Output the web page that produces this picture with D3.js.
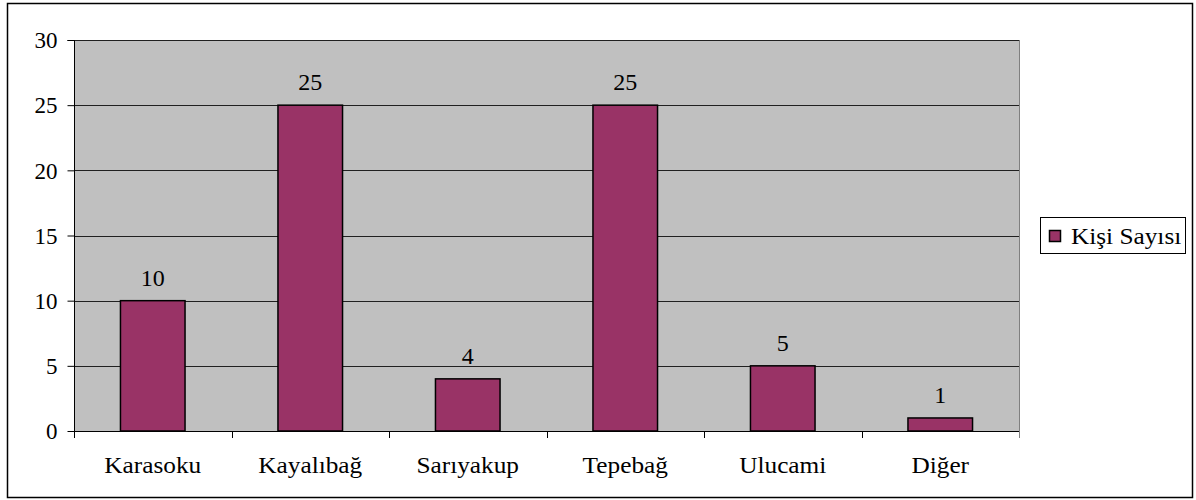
<!DOCTYPE html>
<html>
<head>
<meta charset="utf-8">
<script src="https://cdn.jsdelivr.net/npm/d3@7"></script>
<style>
  html, body { margin: 0; padding: 0; background: #fff; }
  svg { display: block; }
</style>
</head>
<body>
<svg id="chart" width="1196" height="500"></svg>
<script>
// Number of people per neighbourhood
const categories = ["Karasoku", "Kayalıbağ", "Sarıyakup", "Tepebağ", "Ulucami", "Diğer"];
const values = [10, 25, 4, 25, 5, 1];
const yTicks = [0, 5, 10, 15, 20, 25, 30];
const seriesName = "Kişi Sayısı";

const FONT = "Liberation Serif";
const WIDE = 1.1; // horizontal stretch applied to word labels
const svg = d3.select("#chart");
const W = 1196, H = 500;
const plot = { left: 74, top: 40, right: 1019, bottom: 431 };

// Outer frame
svg.append("rect")
  .attr("x", 7.5).attr("y", 3.5)
  .attr("width", W - 11).attr("height", H - 6)
  .attr("fill", "#fff").attr("stroke", "#000").attr("stroke-width", 1.5);

const x = d3.scaleBand()
  .domain(categories)
  .range([plot.left, plot.right])
  .paddingInner(0).paddingOuter(0);

const y = d3.scaleLinear()
  .domain([0, 30])
  .range([plot.bottom, plot.top]);

// Plot background
svg.append("rect")
  .attr("x", plot.left).attr("y", plot.top)
  .attr("width", plot.right - plot.left).attr("height", plot.bottom - plot.top)
  .attr("fill", "#c0c0c0");

// Horizontal gridlines
svg.append("g")
  .selectAll("line")
  .data(yTicks.filter(d => d > 0))
  .join("line")
  .attr("x1", plot.left).attr("x2", plot.right)
  .attr("y1", d => Math.round(y(d)) + 0.5).attr("y2", d => Math.round(y(d)) + 0.5)
  .attr("stroke", "#202020").attr("stroke-width", 1);

// Right edge of plot area
svg.append("line")
  .attr("x1", plot.right + 0.5).attr("x2", plot.right + 0.5)
  .attr("y1", plot.top).attr("y2", plot.bottom)
  .attr("stroke", "#808080").attr("stroke-width", 1);

const rows = categories.map((c, i) => ({ c, v: values[i] }));

// Bars
const barW = x.bandwidth() * 0.41;
svg.append("g")
  .selectAll("rect")
  .data(rows)
  .join("rect")
  .attr("x", d => x(d.c) + (x.bandwidth() - barW) / 2)
  .attr("y", d => y(d.v))
  .attr("width", barW)
  .attr("height", d => y(0) - y(d.v))
  .attr("fill", "#993366")
  .attr("stroke", "#000").attr("stroke-width", 1.5);

// Value labels
svg.append("g")
  .selectAll("text")
  .data(rows)
  .join("text")
  .attr("x", d => x(d.c) + x.bandwidth() / 2)
  .attr("y", d => y(d.v) - 15)
  .attr("text-anchor", "middle")
  .style("font-family", FONT)
  .style("font-size", "24px")
  .style("fill", "#000")
  .text(d => d.v);

// Y axis
const yAxis = d3.axisLeft(y).tickValues(yTicks).tickSize(7).tickPadding(10);
const gy = svg.append("g")
  .attr("transform", `translate(${plot.left + 0.5},0)`)
  .call(yAxis);
gy.attr("font-family", null).attr("font-size", null);
gy.select(".domain").attr("stroke", "#000").attr("d", `M-7,${plot.top + 0.5}H0V${plot.bottom + 7}`);
gy.selectAll(".tick line").attr("stroke", "#000");
gy.selectAll(".tick text")
  .attr("dy", "0.34em")
  .style("font-family", FONT)
  .style("font-size", "23px")
  .style("fill", "#000");

// X axis: ticks at band boundaries
const gx = svg.append("g");
gx.append("line")
  .attr("x1", plot.left).attr("x2", plot.right + 1)
  .attr("y1", plot.bottom + 0.5).attr("y2", plot.bottom + 0.5)
  .attr("stroke", "#000");
const bounds = categories.map(c => x(c)).concat([x.range()[1]]);
gx.selectAll("line.tick")
  .data(bounds)
  .join("line")
  .attr("class", "tick")
  .attr("x1", d => Math.round(d) + 0.5).attr("x2", d => Math.round(d) + 0.5)
  .attr("y1", plot.bottom).attr("y2", plot.bottom + 7)
  .attr("stroke", (d, i) => i === bounds.length - 1 ? "#808080" : "#000");
gx.selectAll("text")
  .data(categories)
  .join("text")
  .attr("transform", d => `translate(${x(d) + x.bandwidth() / 2},473) scale(${WIDE},1)`)
  .attr("text-anchor", "middle")
  .style("font-family", FONT)
  .style("font-size", "23px")
  .style("fill", "#000")
  .text(d => d);

// Legend
const lg = svg.append("g");
lg.append("rect")
  .attr("x", 1040.5).attr("y", 217.5)
  .attr("width", 145).attr("height", 36)
  .attr("fill", "#fff").attr("stroke", "#000").attr("stroke-width", 1);
lg.append("rect")
  .attr("x", 1049.5).attr("y", 230.5)
  .attr("width", 11).attr("height", 11)
  .attr("fill", "#993366").attr("stroke", "#000").attr("stroke-width", 1.5);
lg.append("text")
  .attr("transform", `translate(1071,244) scale(${WIDE},1)`)
  .style("font-family", FONT)
  .style("font-size", "23px")
  .style("fill", "#000")
  .text(seriesName);
</script>
</body>
</html>
